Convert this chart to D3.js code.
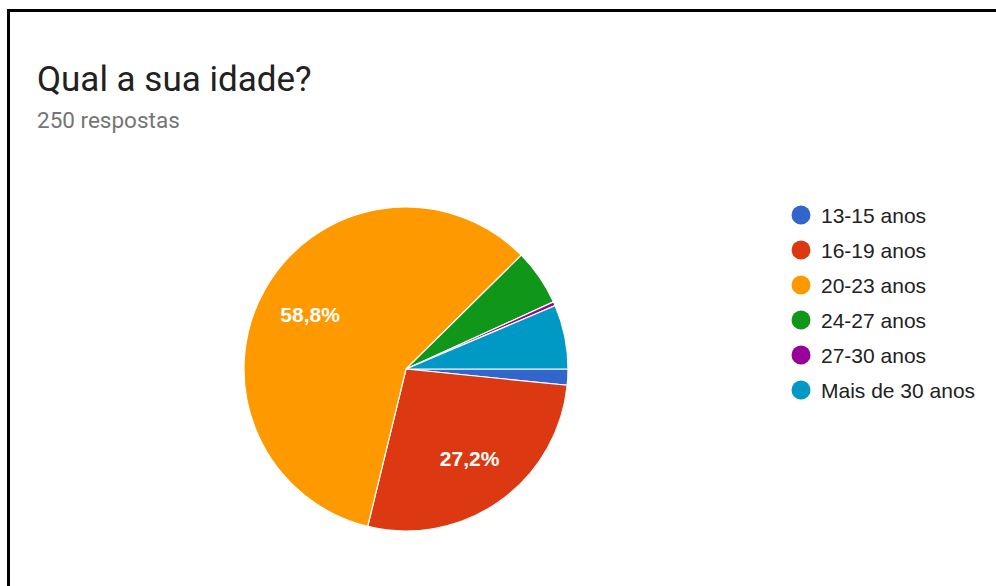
<!DOCTYPE html>
<html>
<head>
<meta charset="utf-8">
<script src="https://cdn.jsdelivr.net/npm/d3@7"></script>
<style>
  html, body { margin: 0; padding: 0; background: #fff; }
  svg { display: block; }
</style>
</head>
<body>
<svg id="chart" width="996" height="586"></svg>
<script>
// Age groups of the 250 answers
const categories = ["13-15 anos", "16-19 anos", "20-23 anos", "24-27 anos", "27-30 anos", "Mais de 30 anos"];
const counts = [4, 68, 147, 14, 1, 16];
const colors = ["#3366cc", "#dc3912", "#ff9900", "#109618", "#990099", "#0099c6"];
const title = "Qual a sua idade?";
const subtitle = "250 respostas";

const svg = d3.select("#chart");
const total = d3.sum(counts);

// card frame
svg.append("rect")
  .attr("x", 8.5).attr("y", 10.5)
  .attr("width", 1100).attr("height", 700)
  .attr("fill", "#fff").attr("stroke", "#000").attr("stroke-width", 3);

svg.append("text")
  .attr("x", 37).attr("y", 91)
  .attr("font-family", "Roboto, sans-serif")
  .attr("font-size", 35)
  .attr("fill", "#212121")
  .text(title);

svg.append("text")
  .attr("x", 37).attr("y", 128)
  .attr("font-family", "Roboto, sans-serif")
  .attr("font-size", 22.5)
  .attr("fill", "#757575")
  .text(subtitle);

// pie
const cx = 406, cy = 369, r = 162;
const color = d3.scaleOrdinal().domain(categories).range(colors);
const data = categories.map((c, i) => ({ cat: c, value: counts[i] }));
const pie = d3.pie().sort(null).value(d => d.value)
  .startAngle(Math.PI / 2).endAngle(Math.PI / 2 + 2 * Math.PI);
const arcs = pie(data);
const arc = d3.arc().innerRadius(0).outerRadius(r);
const labelArc = d3.arc().innerRadius(r * 0.68).outerRadius(r * 0.68);

const g = svg.append("g").attr("transform", `translate(${cx},${cy})`);
g.selectAll("path.slice").data(arcs).enter().append("path")
  .attr("class", "slice")
  .attr("d", arc)
  .attr("fill", d => color(d.data.cat))
  .attr("stroke", "#fff")
  .attr("stroke-width", 1.2);

const fmt = v => (v * 100).toFixed(1).replace(".", ",") + "%";
g.selectAll("text.pct").data(arcs.filter(d => d.data.value / total >= 0.1)).enter().append("text")
  .attr("class", "pct")
  .attr("transform", d => `translate(${labelArc.centroid(d)})`)
  .attr("text-anchor", "middle")
  .attr("dy", "0.36em")
  .attr("font-family", "Arial, 'Liberation Sans', sans-serif")
  .attr("font-weight", "bold")
  .attr("font-size", 21)
  .attr("fill", "#fff")
  .text(d => fmt(d.data.value / total));

// legend
const legendY = d3.scalePoint().domain(categories).range([215, 390]);
const lg = svg.append("g");
const rows = lg.selectAll("g").data(categories).enter().append("g")
  .attr("transform", d => `translate(801,${legendY(d)})`);
rows.append("circle").attr("r", 9.5).attr("fill", d => color(d));
rows.append("text")
  .attr("x", 20).attr("dy", "0.36em")
  .attr("font-family", "Arial, 'Liberation Sans', sans-serif")
  .attr("font-size", 21)
  .attr("fill", "#222")
  .text(d => d);
</script>
</body>
</html>
